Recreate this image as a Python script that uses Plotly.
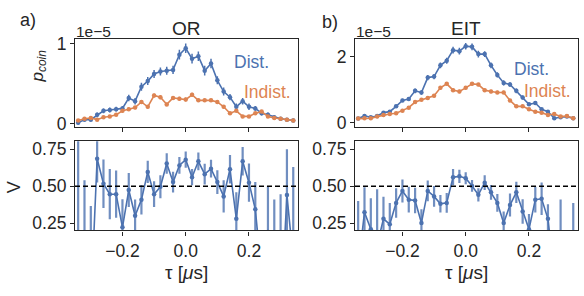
import plotly.graph_objects as go

# ---------------- data ----------------
tau = [-0.34, -0.32, -0.30, -0.28, -0.26, -0.24, -0.22, -0.20, -0.18, -0.16, -0.14, -0.12,
       -0.10, -0.08, -0.06, -0.04, -0.02, 0.00, 0.02, 0.04, 0.06, 0.08, 0.10, 0.12,
       0.14, 0.16, 0.18, 0.20, 0.22, 0.24, 0.26, 0.28, 0.30, 0.32, 0.34]

# p_coin in units of 1e-5
or_dist = [0.01, 0.05, 0.05, 0.11, 0.16, 0.17, 0.18, 0.19, 0.32, 0.28, 0.46, 0.53,
           0.62, 0.65, 0.66, 0.67, 0.86, 0.94, 0.81, 0.84, 0.66, 0.75, 0.54, 0.40,
           0.33, 0.21, 0.28, 0.21, 0.19, 0.13, 0.11, 0.08, 0.06, 0.05, 0.04]
or_dist_err = [0.02, 0.02, 0.02, 0.03, 0.03, 0.03, 0.03, 0.03, 0.04, 0.04, 0.05, 0.05,
               0.05, 0.05, 0.05, 0.05, 0.06, 0.06, 0.06, 0.06, 0.06, 0.06, 0.05, 0.05,
               0.04, 0.04, 0.04, 0.04, 0.03, 0.03, 0.03, 0.02, 0.02, 0.02, 0.02]
or_ind = [0.04, 0.06, 0.07, 0.05, 0.08, 0.09, 0.11, 0.16, 0.18, 0.20, 0.27, 0.21,
          0.35, 0.33, 0.24, 0.32, 0.31, 0.30, 0.36, 0.29, 0.29, 0.29, 0.27, 0.21,
          0.13, 0.16, 0.09, 0.09, 0.13, 0.15, 0.09, 0.07, 0.06, 0.05, 0.04]
or_ind_err = [0.01, 0.01, 0.01, 0.01, 0.015, 0.015, 0.015, 0.02, 0.02, 0.02, 0.02, 0.02,
              0.025, 0.025, 0.02, 0.025, 0.025, 0.025, 0.025, 0.02, 0.02, 0.02, 0.02, 0.02,
              0.015, 0.015, 0.015, 0.015, 0.015, 0.015, 0.01, 0.01, 0.01, 0.01, 0.01]

eit_dist = [0.13, 0.21, 0.17, 0.21, 0.31, 0.34, 0.50, 0.68, 0.72, 0.97, 0.92, 1.37,
            1.40, 1.74, 1.88, 2.20, 2.17, 2.32, 2.30, 2.08, 2.08, 1.74, 1.45, 1.21,
            1.16, 0.97, 0.77, 0.56, 0.60, 0.41, 0.34, 0.14, 0.17, 0.19, 0.14]
eit_dist_err = [0.03, 0.03, 0.03, 0.03, 0.04, 0.04, 0.05, 0.05, 0.06, 0.07, 0.07, 0.08,
                0.08, 0.09, 0.09, 0.10, 0.10, 0.10, 0.10, 0.10, 0.09, 0.09, 0.08, 0.08,
                0.07, 0.07, 0.06, 0.05, 0.05, 0.04, 0.04, 0.03, 0.03, 0.03, 0.03]
eit_ind = [0.13, 0.14, 0.14, 0.19, 0.24, 0.27, 0.29, 0.37, 0.46, 0.63, 0.70, 0.75,
           0.82, 1.06, 1.18, 0.99, 0.95, 1.06, 1.18, 1.16, 0.99, 0.95, 0.92, 0.92,
           0.68, 0.50, 0.50, 0.41, 0.34, 0.31, 0.24, 0.27, 0.19, 0.21, 0.14]
eit_ind_err = [0.02, 0.02, 0.02, 0.02, 0.03, 0.03, 0.03, 0.03, 0.04, 0.04, 0.04, 0.04,
               0.05, 0.05, 0.05, 0.05, 0.05, 0.05, 0.05, 0.05, 0.05, 0.05, 0.05, 0.05,
               0.04, 0.04, 0.04, 0.03, 0.03, 0.03, 0.03, 0.02, 0.02, 0.02, 0.02]

or_vis = [0.00, 0.05, -0.30, 0.686, 0.517, 0.446, 0.446, 0.221, 0.474, 0.300, 0.409, 0.597,
          0.446, 0.496, 0.654, 0.528, 0.641, 0.680, 0.561, 0.669, 0.582, 0.619, 0.528, 0.431,
          0.615, 0.279, 0.669, 0.524, 0.344, -0.10, 0.19, 0.00, -0.40, 0.44, 0.00]
or_vis_err = [0.90, 0.49, 0.666, 0.16, 0.165, 0.17, 0.16, 0.19, 0.115, 0.11, 0.10, 0.075,
              0.087, 0.078, 0.07, 0.07, 0.057, 0.055, 0.055, 0.06, 0.07, 0.06, 0.08, 0.11,
              0.097, 0.18, 0.097, 0.13, 0.185, 0.15, 0.31, 0.41, 0.846, 0.31, 0.63]

eit_vis = [-0.05, 0.323, 0.208, 0.10, 0.279, 0.242, 0.387, 0.468, 0.409, 0.403, 0.251, 0.468,
           0.431, 0.381, 0.387, 0.561, 0.567, 0.554, 0.502, 0.442, 0.524, 0.459, 0.387, 0.251,
           0.372, 0.459, 0.329, 0.208, 0.409, 0.415, 0.279, -0.10, 0.00, -0.10, 0.00]
eit_vis_err = [0.45, 0.17, 0.21, 0.38, 0.15, 0.145, 0.10, 0.078, 0.087, 0.087, 0.093, 0.07,
               0.07, 0.06, 0.067, 0.055, 0.045, 0.04, 0.04, 0.045, 0.05, 0.05, 0.06, 0.078,
               0.078, 0.072, 0.083, 0.104, 0.087, 0.11, 0.098, 0.10, 0.41, 0.25, 0.387]

x_ticks = [-0.2, 0.0, 0.2]
x_tick_text = ["\u22120.2", "0.0", "0.2"]
v_ticks = [0.25, 0.50, 0.75]
v_tick_text = ["0.25", "0.50", "0.75"]

# ---------------- style ----------------
W, H = 584, 296
BLUE = "#4C72B0"
ORANGE = "#DD8452"
TXT = "#262626"
FONT = "Liberation Sans, Arial, sans-serif"
TICK = 17.5


def px_x(p):
    return p / W


def px_y(p):
    return 1 - p / H


fig = go.Figure()


def series(x, y, err, color, xa, ya, ethick=1.5, ecolor=None):
    fig.add_trace(go.Scatter(
        x=x, y=y, mode="lines+markers", xaxis=xa, yaxis=ya,
        line=dict(color=color, width=1.6),
        marker=dict(color=color, size=4.5),
        error_y=dict(type="data", array=err, visible=True, width=0,
                     thickness=ethick, color=ecolor or color),
        showlegend=False, hoverinfo="skip"))


series(tau, or_dist, or_dist_err, BLUE, "x", "y")
series(tau, or_ind, or_ind_err, ORANGE, "x", "y")
series(tau, eit_dist, eit_dist_err, BLUE, "x2", "y2")
series(tau, eit_ind, eit_ind_err, ORANGE, "x2", "y2")
series(tau, or_vis, or_vis_err, BLUE, "x3", "y3", ethick=2.2, ecolor="rgba(76,114,176,0.8)")
series(tau, eit_vis, eit_vis_err, BLUE, "x4", "y4", ethick=2.2, ecolor="rgba(76,114,176,0.8)")

dom_left = [px_x(75), px_x(298)]
dom_right = [px_x(355), px_x(578)]
dom_top = [px_y(127), px_y(35)]
dom_bot = [px_y(235), px_y(142)]

axis_common = dict(showline=True, linecolor=TXT, linewidth=1.25, mirror=True,
                   ticks="outside", ticklen=4, tickwidth=1.1, tickcolor=TXT,
                   showgrid=False, zeroline=False,
                   tickfont=dict(family=FONT, size=TICK, color=TXT))

xr = [-0.35, 0.355]
fig.update_layout(
    xaxis=dict(domain=dom_left, anchor="y", range=xr, tickvals=x_ticks,
               showticklabels=False, **axis_common),
    xaxis2=dict(domain=dom_right, anchor="y2", range=xr, tickvals=x_ticks,
                showticklabels=False, **axis_common),
    xaxis3=dict(domain=dom_left, anchor="y3", range=xr, tickvals=x_ticks,
                ticktext=x_tick_text, **axis_common),
    xaxis4=dict(domain=dom_right, anchor="y4", range=xr, tickvals=x_ticks,
                ticktext=x_tick_text, **axis_common),
    yaxis=dict(domain=dom_top, anchor="x", range=[-0.04, 1.06], tickvals=[0, 1],
               ticktext=["0", "1"], **axis_common),
    yaxis2=dict(domain=dom_top, anchor="x2", range=[-0.12, 2.55], tickvals=[0, 2],
                ticktext=["0", "2"], **axis_common),
    yaxis3=dict(domain=dom_bot, anchor="x3", range=[0.2, 0.805], tickvals=v_ticks,
                ticktext=v_tick_text, **axis_common),
    yaxis4=dict(domain=dom_bot, anchor="x4", range=[0.2, 0.805], tickvals=v_ticks,
                ticktext=v_tick_text, **axis_common),
    width=W, height=H, margin=dict(l=0, r=0, t=0, b=0),
    paper_bgcolor="white", plot_bgcolor="white",
    font=dict(family=FONT, color=TXT),
)

for xa, ya in (("x3", "y3"), ("x4", "y4")):
    fig.add_shape(type="line", xref=xa + " domain", yref=ya, x0=0, x1=1, y0=0.5, y1=0.5,
                  line=dict(color="black", width=1.5, dash="5px,3px"))


def ann(text, x, y, size, color=TXT, angle=0, xanchor="center", yanchor="middle"):
    fig.add_annotation(text=text, x=px_x(x), y=px_y(y), xref="paper", yref="paper",
                       showarrow=False, textangle=angle, xanchor=xanchor, yanchor=yanchor,
                       font=dict(family=FONT, size=size, color=color))


ann("a)", 28, 16, 18)
ann("b)", 330, 18, 18)
ann("OR", 186, 24, 19)
ann("EIT", 466, 24, 19)
ann("1e\u22125", 74, 28, 15.5, xanchor="left")
ann("1e\u22125", 354, 28, 15.5, xanchor="left")
ann("Dist.", 251, 59, 17.5, color=BLUE)
ann("Indist.", 267, 91, 17.5, color=ORANGE)
ann("Dist.", 531, 67, 17.5, color=BLUE)
ann("Indist.", 547, 90, 17.5, color=ORANGE)
ann("<i>p</i><sub><i>coin</i></sub>", 39, 64, 17, angle=-90)
ann("V", 14, 190, 18, angle=-90)
ann("\u03c4 [<i>\u03bc</i>s]", 186, 279, 19)
ann("\u03c4 [<i>\u03bc</i>s]", 466, 279, 19)

fig.write_html("out.html", config={"displayModeBar": False},
               post_script="document.body.style.margin='0';document.body.style.overflow='hidden';")
